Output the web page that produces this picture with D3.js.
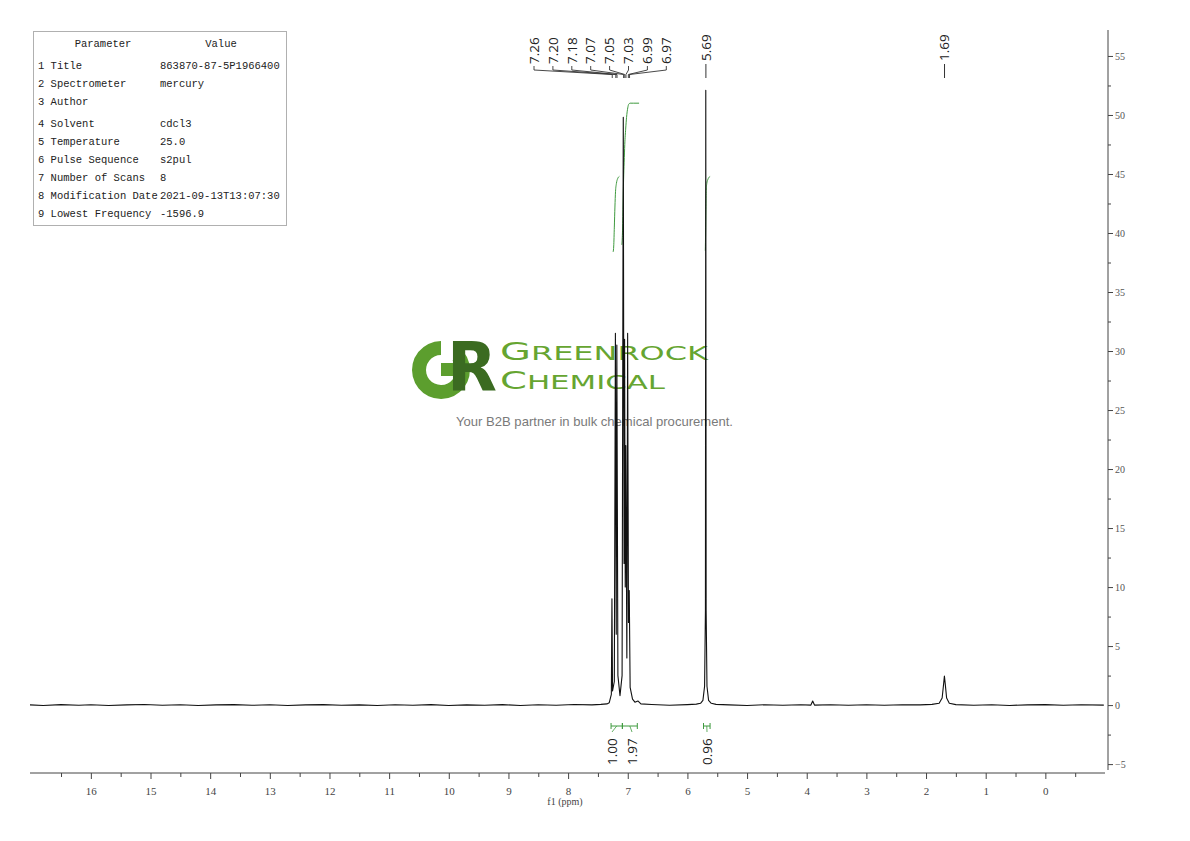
<!DOCTYPE html>
<html><head><meta charset="utf-8">
<script src="https://cdn.jsdelivr.net/npm/d3@7"></script>
<style>
html,body{margin:0;padding:0;background:#fff;}
svg{display:block;}
</style></head>
<body>
<svg id="chart" width="1190" height="841"></svg>
<script>
// ---------- DATA ----------
const paramNames = ["1 Title","2 Spectrometer","3 Author","4 Solvent","5 Temperature","6 Pulse Sequence","7 Number of Scans","8 Modification Date","9 Lowest Frequency"];
const paramValues = ["863870-87-5P1966400","mercury","","cdcl3","25.0","s2pul","8","2021-09-13T13:07:30","-1596.9"];

const xTicks = [0,1,2,3,4,5,6,7,8,9,10,11,12,13,14,15,16];
const xMinorTicks = [-0.5,0.5,1.5,2.5,3.5,4.5,5.5,6.5,7.5,8.5,9.5,10.5,11.5,12.5,13.5,14.5,15.5,16.5];
const yTicks = [-5,0,5,10,15,20,25,30,35,40,45,50,55];
const yMinorTicks = [-2.5,2.5,7.5,12.5,17.5,22.5,27.5,32.5,37.5,42.5,47.5,52.5];

// peak-pick labels (ppm)
const clusterPeaks = [7.26,7.20,7.18,7.07,7.05,7.03,6.99,6.97];
const singlePeaks = [5.69,1.69];

// integration regions: [from ppm, to ppm, value]
const integrations = [
  {from:7.28, to:7.09, value:"1.00"},
  {from:7.09, to:6.84, value:"1.97"},
  {from:5.73, to:5.62, value:"0.96"}
];

// integral curves (ppm, intensity units)
const integralCurve1 = [[7.245,38.4],[7.235,38.9],[7.225,40.5],[7.215,42.2],[7.205,43.5],[7.19,44.2],[7.17,44.6],[7.14,44.8]];
const integralCurve2 = [[7.10,39.0],[7.09,39.8],[7.08,42.0],[7.07,44.5],[7.06,46.0],[7.05,47.5],[7.035,48.8],[7.02,49.8],[7.00,50.6],[6.985,50.9],[6.96,51.0],[6.90,51.0],[6.81,51.0]];
const integralCurve3 = [[5.70,38.5],[5.695,40.0],[5.69,42.0],[5.685,43.6],[5.675,44.2],[5.66,44.5],[5.64,44.7],[5.62,44.8]];

// spectrum trace (ppm, intensity)
const spectrum = [
  [17.02,0.02],[16.8,-0.03],[16.5,0.04],[16.2,-0.02],[16.0,0.03],[15.7,-0.04],[15.4,0.02],[15.1,0.05],[14.8,-0.02],[14.5,0.03],
  [14.2,-0.03],[13.9,0.02],[13.6,0.04],[13.3,-0.02],[13.0,0.03],[12.7,-0.03],[12.4,0.02],[12.1,0.04],[11.8,-0.02],[11.5,0.02],
  [11.2,-0.04],[10.9,0.03],[10.6,-0.02],[10.3,0.04],[10.0,-0.03],[9.7,0.02],[9.4,-0.02],[9.1,0.04],[8.8,-0.03],[8.5,0.03],
  [8.2,-0.02],[7.9,0.05],[7.6,0.02],[7.45,0.06],[7.35,0.1],
  [7.31,0.2],[7.275,0.9],[7.265,9.0],[7.255,1.2],[7.225,2.0],[7.207,31.5],[7.193,6.0],[7.183,30.5],[7.165,2.5],[7.13,0.8],
  [7.095,2.5],[7.075,49.8],[7.062,12.0],[7.053,31.0],[7.042,10.0],[7.033,22.0],[7.015,4.0],[7.002,31.5],[6.988,7.0],[6.975,9.7],
  [6.96,1.5],[6.92,0.5],[6.88,0.25],[6.83,0.35],[6.78,0.1],[6.6,0.05],[6.3,-0.02],[6.0,0.04],[5.85,0.08],
  [5.78,0.15],[5.74,0.4],[5.712,1.6],[5.698,8.0],[5.692,52.1],[5.686,8.0],[5.672,1.6],[5.645,0.4],[5.60,0.15],[5.52,0.06],
  [5.3,0.02],[5.0,-0.03],[4.7,0.03],[4.4,-0.02],[4.1,0.03],[3.93,0.0],[3.90,0.35],[3.87,0.0],[3.6,0.03],[3.3,-0.02],[3.0,0.03],
  [2.7,-0.02],[2.4,0.03],[2.1,0.02],[1.9,0.06],[1.78,0.15],[1.73,0.6],[1.705,1.8],[1.692,2.45],[1.678,1.8],[1.655,0.6],[1.61,0.15],
  [1.5,0.04],[1.2,-0.02],[0.9,0.03],[0.6,-0.03],[0.3,0.02],[0.0,0.04],[-0.3,-0.02],[-0.6,0.03],[-0.98,0.0]
];

// ---------- LAYOUT ----------
const svg = d3.select("#chart");
const x = d3.scaleLinear().domain([17.02,-1.0]).range([30,1105]);
const y = d3.scaleLinear().domain([-5.5,57.2]).range([770,30]);
const axisY = 773, rightX = 1108;
const serif = "'Liberation Serif', 'DejaVu Serif', serif";
const sans = "'Open Sans', 'Liberation Sans', sans-serif";
const green = "#3f9a3f";

// ---------- LOGO (watermark, under the trace) ----------
const logo = svg.append("g");
const gArc = d3.arc().innerRadius(15).outerRadius(29).startAngle(Math.PI*0.28).endAngle(Math.PI*2);
logo.append("path").attr("d", gArc).attr("transform","translate(441,370)").attr("fill","#5c9e2e");
logo.append("rect").attr("x",441).attr("y",363).attr("width",26).attr("height",13).attr("fill","#5c9e2e");
logo.append("text").attr("x",447).attr("y",391).attr("font-family","'DejaVu Sans', sans-serif").attr("font-weight","bold")
  .attr("font-size",68).attr("fill","#3b6b21").attr("textLength",50).attr("lengthAdjust","spacingAndGlyphs").text("R");
const t1 = logo.append("text").attr("x",500).attr("y",360).attr("font-family","'DejaVu Sans', sans-serif").attr("fill","#66a531")
  .attr("textLength",208).attr("lengthAdjust","spacingAndGlyphs");
t1.append("tspan").attr("font-size",25).text("G");
t1.append("tspan").attr("font-size",20).text("REENROCK");
const t2 = logo.append("text").attr("x",500).attr("y",389).attr("font-family","'DejaVu Sans', sans-serif").attr("fill","#66a531")
  .attr("textLength",165).attr("lengthAdjust","spacingAndGlyphs");
t2.append("tspan").attr("font-size",25).text("C");
t2.append("tspan").attr("font-size",20).text("HEMICAL");
logo.append("text").attr("x",456).attr("y",426).attr("font-family","'Liberation Sans', Arial, sans-serif").attr("font-size",13)
  .attr("fill","#7a7a7a").attr("textLength",277).attr("lengthAdjust","spacingAndGlyphs").text("Your B2B partner in bulk chemical procurement.");

// ---------- PARAMETER TABLE ----------
const tbl = svg.append("g");
tbl.append("rect").attr("x",33.5).attr("y",31.5).attr("width",253).attr("height",194).attr("fill","#fff").attr("stroke","#b0b0b0");
const mono = "'Liberation Mono', 'DejaVu Sans Mono', monospace";
tbl.append("text").attr("x",103).attr("y",47).attr("text-anchor","middle").attr("font-family",mono).attr("font-size",10.5).attr("fill","#222").text("Parameter");
tbl.append("text").attr("x",221).attr("y",47).attr("text-anchor","middle").attr("font-family",mono).attr("font-size",10.5).attr("fill","#222").text("Value");
const rowY = [69,87,105,127,145,163,181,199,217];
paramNames.forEach((n,i)=>{
  tbl.append("text").attr("x",38).attr("y",rowY[i]).attr("font-family",mono).attr("font-size",10.5).attr("fill","#222").text(n);
  tbl.append("text").attr("x",160).attr("y",rowY[i]).attr("font-family",mono).attr("font-size",10.5).attr("fill","#222").text(paramValues[i]);
});

// ---------- AXES ----------
const xAxis = svg.append("g").attr("transform",`translate(0,${axisY})`)
  .call(d3.axisBottom(x).tickValues(xTicks).tickSize(6).tickPadding(8).tickFormat(d3.format("d")));
xAxis.select(".domain").attr("d",`M30,0H1105`).attr("stroke","#444");
xAxis.selectAll(".tick line").attr("stroke","#444");
xAxis.selectAll("text").attr("font-family",serif).attr("font-size",11).attr("fill","#444");
const xMinor = svg.append("g").attr("transform",`translate(0,${axisY})`)
  .call(d3.axisBottom(x).tickValues(xMinorTicks).tickSize(4).tickFormat(""));
xMinor.select(".domain").remove();
xMinor.selectAll(".tick line").attr("stroke","#444");
svg.append("text").attr("x",565).attr("y",805).attr("text-anchor","middle").attr("font-family",serif).attr("font-size",10).attr("fill","#444").text("f1 (ppm)");

const yAxis = svg.append("g").attr("transform",`translate(${rightX},0)`)
  .call(d3.axisRight(y).tickValues(yTicks).tickSize(5).tickPadding(2).tickFormat(d3.format("d")));
yAxis.select(".domain").attr("d",`M0,30V770`).attr("stroke","#444");
yAxis.selectAll(".tick line").attr("stroke","#444");
yAxis.selectAll("text").attr("font-family",serif).attr("font-size",10).attr("fill","#555");
const yMinor = svg.append("g").attr("transform",`translate(${rightX},0)`)
  .call(d3.axisRight(y).tickValues(yMinorTicks).tickSize(3).tickFormat(""));
yMinor.select(".domain").remove();
yMinor.selectAll(".tick line").attr("stroke","#444");

// ---------- INTEGRAL CURVES ----------
const line = d3.line().x(d=>x(d[0])).y(d=>y(d[1]));
[integralCurve1,integralCurve2,integralCurve3].forEach(c=>{
  svg.append("path").attr("d",line.curve(d3.curveMonotoneX)(c)).attr("fill","none").attr("stroke",green).attr("stroke-width",1);
});

// ---------- SPECTRUM ----------
svg.append("path").attr("d",d3.line().x(d=>x(d[0])).y(d=>y(d[1]))(spectrum))
  .attr("fill","none").attr("stroke","#111").attr("stroke-width",1.1).attr("stroke-linejoin","round");

// ---------- PEAK LABELS ----------
const pk = svg.append("g");
const labelBottom = 64;
clusterPeaks.forEach((p,i)=>{
  const lx = 534 + i*18.9, px = x(p);
  pk.append("text").attr("transform",`translate(${lx},${labelBottom}) rotate(-90)`).attr("dy","0.35em")
    .attr("font-family",sans).attr("font-size",13.5).attr("fill","#222").text(p.toFixed(2));
  pk.append("path").attr("d",`M${lx},66V70L${px},74.5V78`).attr("fill","none").attr("stroke","#333").attr("stroke-width",0.9);
});
singlePeaks.forEach(p=>{
  const px = x(p);
  pk.append("text").attr("transform",`translate(${px},61) rotate(-90)`).attr("dy","0.35em")
    .attr("font-family",sans).attr("font-size",13.5).attr("fill","#222").text(p.toFixed(2));
  pk.append("path").attr("d",`M${px},64V78`).attr("stroke","#333").attr("stroke-width",1);
});

// ---------- INTEGRATION BRACKETS ----------
const ig = svg.append("g");
const labelXs = [612,632,707];
integrations.forEach((r,i)=>{
  const x0 = x(r.from), x1 = x(r.to), bY = 726, mid = (x0+x1)/2;
  ig.append("path").attr("d",`M${x0},${bY-3}V${bY+3}M${x0},${bY}H${x1}M${x1},${bY-3}V${bY+3}`)
    .attr("fill","none").attr("stroke",green).attr("stroke-width",1);
  ig.append("path").attr("d",`M${mid},${bY}L${labelXs[i]},${bY+6}`).attr("fill","none").attr("stroke",green).attr("stroke-width",0.8);
  ig.append("text").attr("transform",`translate(${labelXs[i]},765) rotate(-90)`).attr("dy","0.35em")
    .attr("font-family",sans).attr("font-size",13.5).attr("fill","#222").text(r.value);
});
</script>
</body></html>
